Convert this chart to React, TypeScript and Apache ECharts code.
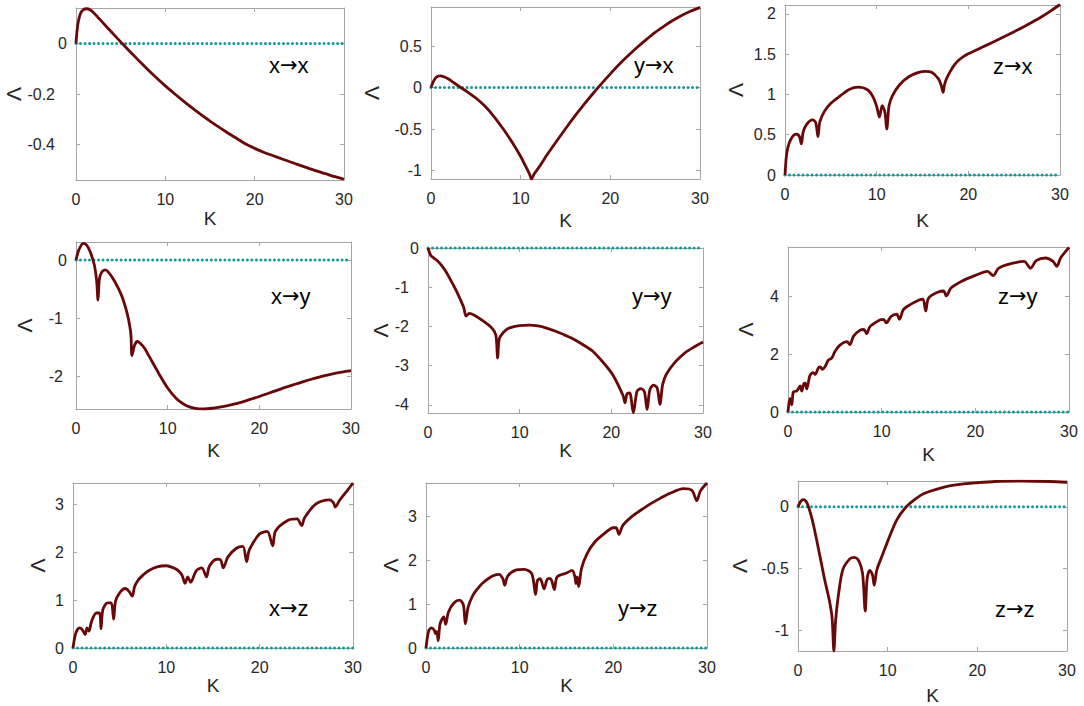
import React, { useEffect, useRef } from "react";
import * as echarts from "echarts";

// ---------- data (K, Λ) ----------
const kTicks = [0, 10, 20, 30];

const xToX: number[][] = [[0,0],[0.1,0.045],[0.25,0.085],[0.5,0.118],[0.8,0.133],[1.2,0.137],[1.6,0.132],[2,0.12],[3,0.082],[4,0.044],[5,0.006],[6,-0.031],[7,-0.067],[8,-0.102],[9,-0.136],[10,-0.168],[11,-0.198],[12,-0.227],[13,-0.255],[14,-0.282],[15,-0.307],[16,-0.331],[17,-0.354],[18,-0.376],[19,-0.398],[20,-0.415],[21,-0.43],[22,-0.443],[23,-0.456],[24,-0.469],[25,-0.481],[26,-0.493],[27,-0.505],[28,-0.516],[29,-0.527],[30,-0.537]];

const yToX: number[][] = [[0,0],[0.3,0.08],[0.6,0.125],[1.0,0.14],[1.5,0.128],[2,0.1],[2.5,0.062],[3,0.025],[3.5,-0.012],[4,-0.048],[5,-0.125],[6,-0.222],[7,-0.345],[8,-0.49],[9,-0.65],[10,-0.83],[10.5,-0.935],[11,-1.045],[11.2,-1.1],[11.5,-1.04],[12,-0.965],[13,-0.8],[14,-0.645],[15,-0.495],[16,-0.35],[17,-0.212],[18,-0.08],[19,0.045],[20,0.165],[21,0.28],[22,0.385],[23,0.485],[24,0.578],[25,0.665],[26,0.74],[27,0.81],[28,0.872],[29,0.922],[30,0.966]];

const zToX: number[][] = [[0,0],[0.15,0.23],[0.33,0.35],[0.62,0.44],[1.0,0.5],[1.3,0.506],[1.6,0.47],[1.78,0.386],[2.0,0.54],[2.4,0.635],[3.0,0.685],[3.35,0.65],[3.6,0.477],[3.8,0.66],[4.3,0.79],[5,0.89],[6,0.98],[7,1.062],[8,1.09],[9,1.058],[9.6,0.97],[10.0,0.85],[10.3,0.72],[10.6,0.86],[10.9,0.78],[11.1,0.57],[11.35,0.86],[11.7,0.98],[12.5,1.12],[13.5,1.22],[14.5,1.27],[15.3,1.286],[16,1.274],[16.7,1.2],[17.0,1.13],[17.25,1.025],[17.4,1.12],[17.6,1.19],[18,1.28],[18.5,1.37],[19,1.43],[19.5,1.472],[20,1.505],[21,1.558],[22,1.612],[23,1.666],[24,1.722],[25,1.779],[26,1.838],[27,1.9],[28,1.965],[29,2.037],[30,2.116]];

const xToY: number[][] = [[0,0],[0.3,0.17],[0.8,0.286],[1.2,0.25],[1.6,0.12],[2.0,-0.086],[2.25,-0.35],[2.4,-0.69],[2.55,-0.33],[2.8,-0.21],[3.2,-0.17],[4,-0.31],[4.5,-0.45],[5.0,-0.62],[5.3,-0.76],[5.6,-0.93],[5.85,-1.12],[6.0,-1.3],[6.1,-1.64],[6.4,-1.46],[6.7,-1.4],[7,-1.43],[7.5,-1.52],[8,-1.66],[9,-1.94],[10,-2.2],[11,-2.39],[12,-2.5],[13,-2.55],[14,-2.56],[15,-2.545],[16,-2.52],[17,-2.485],[18,-2.445],[19,-2.395],[20,-2.345],[21,-2.29],[22,-2.235],[23,-2.18],[24,-2.13],[25,-2.08],[26,-2.035],[27,-1.99],[28,-1.955],[29,-1.925],[30,-1.9]];

const yToY: number[][] = [[0,0],[0.3,-0.19],[0.6,-0.25],[1,-0.32],[1.5,-0.45],[2,-0.62],[2.5,-0.83],[3,-1.05],[3.5,-1.3],[3.9,-1.52],[4.15,-1.74],[4.5,-1.67],[5,-1.71],[6,-1.86],[7,-2.05],[7.4,-2.22],[7.6,-2.81],[7.8,-2.3],[8.5,-2.09],[9,-2.03],[10,-1.98],[11,-1.97],[12,-1.99],[13,-2.05],[14,-2.13],[15,-2.23],[16,-2.34],[17,-2.48],[18,-2.64],[19,-2.89],[20,-3.18],[20.5,-3.38],[21,-3.62],[21.3,-3.78],[21.5,-3.95],[21.7,-3.72],[22,-3.7],[22.4,-4.2],[22.8,-3.66],[23.2,-3.59],[23.6,-3.66],[23.9,-4.12],[24.2,-3.62],[24.6,-3.5],[25,-3.57],[25.3,-3.99],[25.6,-3.48],[26,-3.22],[27,-2.9],[28,-2.68],[29,-2.53],[30,-2.4]];

const zToY: number[][] = [[0,0],[0.2,0.47],[0.4,0.25],[0.57,0.69],[0.9,0.72],[1.1,0.8],[1.3,0.9],[1.46,0.72],[1.7,0.98],[1.85,1.0],[2.0,0.8],[2.35,1.27],[2.7,1.36],[2.9,1.3],[3.27,1.54],[3.45,1.56],[3.65,1.47],[3.96,1.57],[4.3,1.79],[4.66,1.86],[5.0,2.08],[5.55,2.31],[6.3,2.43],[6.6,2.33],[7.0,2.62],[7.7,2.83],[8.1,2.85],[8.4,2.71],[8.75,2.95],[9.8,3.18],[10.2,3.2],[10.5,3.08],[11,3.3],[11.6,3.38],[11.9,3.2],[12.3,3.53],[13,3.7],[14,3.87],[14.4,3.9],[14.7,3.49],[15,3.93],[16,4.14],[16.6,4.18],[16.9,4.01],[17.4,4.28],[18.5,4.51],[20,4.72],[21.3,4.86],[21.9,4.71],[22.5,4.97],[24,5.14],[25.2,5.2],[25.9,4.97],[26.5,5.23],[27.5,5.32],[28.3,5.2],[28.7,5.03],[29.1,5.32],[30,5.69]];

const xToZ: number[][] = [[0,0],[0.3,0.31],[0.7,0.42],[1.0,0.38],[1.3,0.28],[1.5,0.42],[1.7,0.35],[2.0,0.56],[2.5,0.73],[2.85,0.73],[3.0,0.4],[3.2,0.8],[3.7,0.94],[4.1,0.94],[4.35,0.6],[4.55,0.97],[5,1.15],[5.6,1.24],[6,1.18],[6.35,1.08],[6.6,1.28],[7,1.42],[7.5,1.52],[8,1.6],[9,1.69],[10,1.715],[11,1.65],[11.4,1.59],[11.7,1.51],[12,1.35],[12.3,1.48],[12.6,1.37],[13.2,1.61],[13.8,1.67],[14.3,1.48],[14.6,1.7],[15.4,1.85],[15.8,1.84],[16.1,1.67],[16.6,1.9],[17.5,2.08],[18.2,2.12],[18.6,1.8],[18.9,2.05],[20,2.38],[20.8,2.43],[21.4,2.13],[21.7,2.44],[23,2.66],[24,2.69],[24.5,2.55],[24.8,2.71],[26,3.0],[27.5,3.09],[27.9,3.03],[28.1,2.94],[28.6,3.09],[29.3,3.26],[30,3.44]];

const yToZ: number[][] = [[0,0],[0.3,0.4],[0.6,0.46],[0.9,0.4],[1.0,0.33],[1.15,0.37],[1.3,0.17],[1.5,0.55],[1.9,0.71],[2.1,0.54],[2.4,0.82],[3,1.03],[3.6,1.09],[4,0.97],[4.2,0.55],[4.5,0.93],[5,1.2],[5.5,1.35],[6,1.47],[7,1.63],[7.8,1.68],[8.2,1.58],[8.4,1.43],[8.7,1.63],[9.5,1.77],[10.5,1.79],[11.3,1.69],[11.7,1.22],[11.9,1.54],[12.2,1.58],[12.6,1.35],[13,1.58],[13.3,1.58],[13.7,1.33],[14,1.62],[15,1.71],[15.6,1.77],[15.9,1.62],[16.0,1.47],[16.15,1.62],[16.3,1.4],[16.6,1.81],[17.2,2.15],[18,2.41],[19,2.6],[20,2.74],[20.3,2.74],[20.6,2.59],[21,2.79],[22,3.0],[23,3.15],[24,3.29],[25,3.41],[26,3.52],[27.5,3.63],[28.4,3.59],[28.9,3.36],[29.3,3.58],[30,3.76]];

const zToZ: number[][] = [[0,0],[0.3,0.045],[0.6,0.059],[1,0.032],[1.5,-0.08],[2,-0.24],[2.5,-0.42],[3,-0.6],[3.5,-0.76],[3.8,-0.9],[4.0,-1.17],[4.2,-0.92],[4.5,-0.72],[5,-0.51],[5.8,-0.42],[6.3,-0.41],[6.8,-0.44],[7.2,-0.54],[7.5,-0.845],[7.7,-0.59],[8,-0.515],[8.3,-0.55],[8.5,-0.635],[8.8,-0.51],[9.5,-0.375],[10,-0.28],[11,-0.107],[12,-0.005],[13,0.059],[14,0.107],[16,0.155],[18,0.182],[20,0.196],[22,0.206],[25,0.209],[28,0.206],[30,0.2]];

const zeroLine: number[][] = [[0,0],[30,0]];

const panelFrom = ["x", "y", "z", "x", "y", "z", "x", "y", "z"];
const panelTo = ["x", "x", "x", "y", "y", "y", "z", "z", "z"];
const panelData = [xToX, yToX, zToX, xToY, yToY, zToY, xToZ, yToZ, zToZ];
const yRanges = [[-0.54, 0.14], [-1.1, 0.97], [0, 2.11], [-2.56, 0.31], [-4.21, 0], [0, 5.7], [0, 3.44], [0, 3.76], [-1.17, 0.21]];
const yTickValues = [
  [-0.4, -0.2, 0],
  [-1, -0.5, 0, 0.5],
  [0, 0.5, 1, 1.5, 2],
  [-2, -1, 0],
  [-4, -3, -2, -1, 0],
  [0, 2, 4],
  [0, 1, 2, 3],
  [0, 1, 2, 3],
  [-1, -0.5, 0],
];

// ---------- layout (pixels) ----------
const layout = [
  { left: 76, top: 8, width: 268, height: 172, kOff: 38, lOff: 58.5, neg: 12, lx: 269, ly: 67 },
  { left: 431, top: 7, width: 269, height: 172, kOff: 41, lOff: 59.5, neg: 0, lx: 634, ly: 67 },
  { left: 785, top: 5, width: 275, height: 170, kOff: 45, lOff: 50, neg: 0, lx: 993, ly: 68 },
  { left: 76, top: 242, width: 275, height: 167, kOff: 41.5, lOff: 51.5, neg: 4, lx: 271, ly: 298 },
  { left: 428, top: 248, width: 275, height: 165, kOff: 35.5, lOff: 41.5, neg: 10, lx: 632, ly: 298 },
  { left: 788, top: 247, width: 281, height: 165, kOff: 42.5, lOff: 42.5, neg: 0, lx: 998, ly: 298 },
  { left: 73, top: 483, width: 280, height: 165, kOff: 36.5, lOff: 35.5, neg: 0, lx: 269, ly: 610 },
  { left: 426, top: 483, width: 281, height: 165, kOff: 36, lOff: 35.5, neg: 0, lx: 618, ly: 610 },
  { left: 798, top: 481, width: 269, height: 171, kOff: 44.5, lOff: 58.5, neg: 0, lx: 995, ly: 611 },
];

const FONT = "'Liberation Sans', Arial, Helvetica, sans-serif";
const FRAME = "#a6a6a6";
const TXT = "#262626";
const RED = "#680808";
const TEAL = "#14999a";
const KSIZE = 19;
const LSIZE = 21;

export default function App() {
  const ref = useRef<HTMLDivElement>(null);
  useEffect(() => {
    if (!ref.current) return;
    const chart = echarts.init(ref.current, undefined, { renderer: "svg" });
    const grid: any[] = [];
    const xAxis: any[] = [];
    const yAxis: any[] = [];
    const series: any[] = [];
    const graphic: any[] = [];
    layout.forEach((p, i) => {
      grid.push({ left: p.left, top: p.top, width: p.width, height: p.height, show: false });
      const common = {
        type: "value",
        gridIndex: i,
        splitLine: { show: false },
        axisLine: { show: true, onZero: false, lineStyle: { color: FRAME, width: 1 } },
      };
      xAxis.push({
        ...common,
        position: "bottom",
        min: 0,
        max: 30,
        interval: 10,
        axisTick: { show: true, inside: true, length: 4, lineStyle: { color: FRAME } },
        axisLabel: { margin: 11, color: TXT, fontSize: 16, fontFamily: FONT, customValues: kTicks },
        name: "K",
        nameLocation: "middle",
        nameGap: p.kOff - KSIZE / 2,
        nameTextStyle: { fontSize: KSIZE, color: TXT, fontFamily: FONT },
      });
      xAxis.push({
        ...common,
        position: "top",
        min: 0,
        max: 30,
        interval: 10,
        axisTick: { show: true, inside: true, length: 4, lineStyle: { color: FRAME } },
        axisLabel: { show: false },
      });
      const [ymin, ymax] = yRanges[i];
      const ticks = yTickValues[i];
      const neg = p.neg;
      yAxis.push({
        ...common,
        position: "left",
        min: ymin,
        max: ymax,
        axisTick: { show: true, inside: true, length: 4, lineStyle: { color: FRAME }, customValues: ticks },
        axisLabel: {
          margin: 9,
          color: TXT,
          fontSize: 16,
          fontFamily: FONT,
          customValues: ticks,
          formatter: (v: number) => (v < 0 && neg > 0 ? `{n|${v}}` : `${v}`),
          rich: { n: { padding: [0, neg, 0, 0], fontSize: 16, color: TXT, fontFamily: FONT } },
        },
        name: "Λ",
        nameLocation: "middle",
        nameGap: p.lOff - LSIZE / 2,
        nameTextStyle: { fontSize: LSIZE, color: TXT, fontFamily: FONT },
      });
      yAxis.push({
        ...common,
        position: "right",
        min: ymin,
        max: ymax,
        axisTick: { show: true, inside: true, length: 4, lineStyle: { color: FRAME }, customValues: ticks },
        axisLabel: { show: false },
      });
      series.push({
        type: "line",
        xAxisIndex: 2 * i,
        yAxisIndex: 2 * i,
        data: zeroLine,
        symbol: "none",
        clip: false,
        silent: true,
        z: 2,
        lineStyle: { color: TEAL, width: 3, type: [0.01, 4.5], cap: "round" },
      });
      series.push({
        type: "line",
        xAxisIndex: 2 * i,
        yAxisIndex: 2 * i,
        data: panelData[i],
        symbol: "none",
        smooth: 0.3,
        silent: true,
        z: 3,
        lineStyle: { color: RED, width: 2.8, join: "round" },
      });
      graphic.push({
        type: "text",
        x: p.lx,
        y: p.ly - 2,
        style: {
          text: `{a|${panelFrom[i]}}{b|→}{a|${panelTo[i]}}`,
          verticalAlign: "middle",
          rich: {
            a: { fontSize: 22, fontFamily: FONT, fill: "#000", color: "#000" },
            b: { fontSize: 21, fontFamily: "'DejaVu Sans', sans-serif", fill: "#000", color: "#000" },
          },
        },
      });
    });
    chart.setOption({ animation: false, backgroundColor: "#fff", grid, xAxis, yAxis, series, graphic });
    return () => chart.dispose();
  }, []);
  return <div ref={ref} style={{ position: "fixed", left: 0, top: 0, width: 1084, height: 706 }} />;
}
